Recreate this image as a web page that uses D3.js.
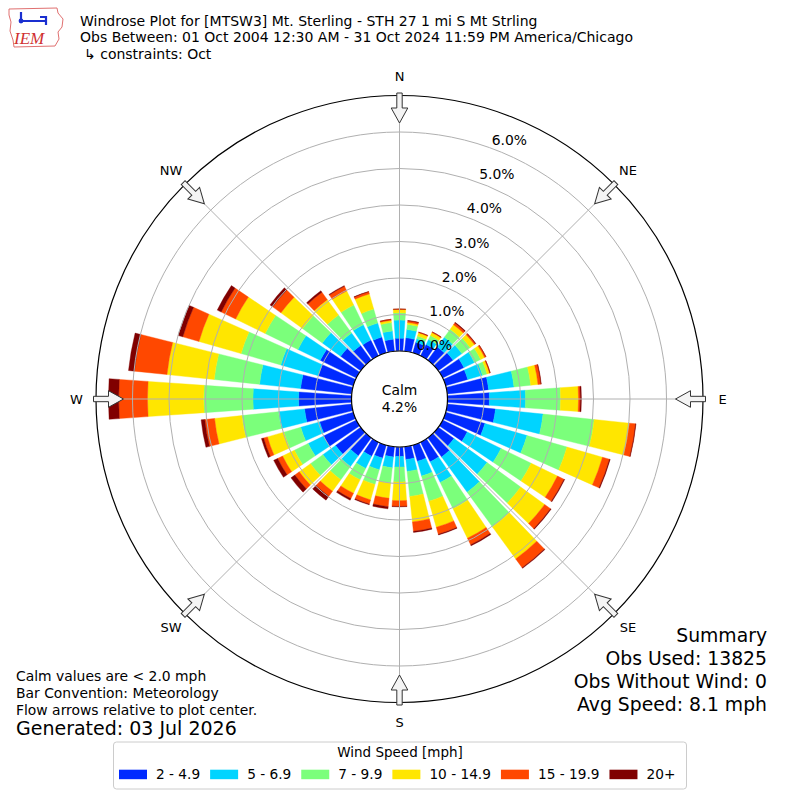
<!DOCTYPE html>
<html>
<head>
<meta charset="utf-8">
<script src="https://cdn.jsdelivr.net/npm/d3@7"></script>
<style>
  body { margin: 0; background: #fff; }
  svg text { font-family: "DejaVu Sans", sans-serif; fill: #000; }
</style>
</head>
<body>
<div id="chart"></div>
<script>
//directions of the 36 sectors (degrees, meteorological: where the wind blows from)
const directions = [0,10,20,30,40,50,60,70,80,90,100,110,120,130,140,150,160,170,
                    180,190,200,210,220,230,240,250,260,270,280,290,300,310,320,330,340,350];

//percent of obs in each sector, one array per speed class
const spd2to5 = [0.35,0.37,0.30,0.35,0.45,0.50,0.65,0.63,1.14,1.15,1.33,1.12,0.75,0.53,0.65,0.60,0.46,0.35,
                 0.26,0.28,0.37,0.43,0.61,0.85,1.00,0.96,1.30,1.45,1.41,1.00,1.10,0.68,0.50,0.48,0.45,0.33];
const spd5to7 = [0.50,0.23,0.10,0.15,0.33,0.30,0.32,0.42,0.70,0.99,1.31,1.20,1.03,1.12,1.19,0.63,0.42,0.33,
                 0.29,0.30,0.33,0.37,0.36,0.43,0.47,0.54,0.72,1.25,1.13,1.07,0.68,0.62,0.42,0.47,0.40,0.23];
const spd7to10 = [0.20,0.14,0.08,0.12,0.27,0.28,0.19,0.13,0.46,0.96,1.41,1.14,0.92,1.14,1.18,0.80,0.72,0.69,
                  0.41,0.42,0.42,0.35,0.45,0.42,0.42,0.48,1.01,1.35,1.25,1.13,1.00,0.67,0.61,0.60,0.40,0.23];
const spd10to15 = [0.09,0.05,0.09,0.09,0.15,0.14,0.12,0.07,0.20,0.49,0.97,1.01,0.80,0.81,1.08,0.90,0.74,0.70,
                   0.51,0.42,0.44,0.41,0.39,0.38,0.36,0.47,0.75,1.54,1.30,1.20,0.90,0.73,0.52,0.43,0.43,0.06];
const spd15to20 = [0.01,0.05,0.02,0.02,0.06,0.04,0.04,0.02,0.08,0.05,0.17,0.20,0.20,0.20,0.30,0.20,0.20,0.26,
                   0.16,0.23,0.12,0.16,0.17,0.15,0.15,0.11,0.27,0.79,0.90,0.46,0.44,0.28,0.25,0.14,0.06,0.03];
const spd20plus = [0.00,0.01,0.00,0.00,0.02,0.01,0.00,0.00,0.01,0.03,0.01,0.02,0.02,0.02,0.02,0.03,0.02,0.03,
                   0.01,0.06,0.02,0.05,0.13,0.13,0.12,0.06,0.10,0.28,0.16,0.13,0.12,0.09,0.05,0.02,0.01,0.00];

const speedLabels = ["2 - 4.9", "5 - 6.9", "7 - 9.9", "10 - 14.9", "15 - 19.9", "20+"];
const speedColors = ["#002aff", "#00d4ff", "#7bff7b", "#ffe600", "#ff4800", "#800000"];

const ringTicks = [0, 1, 2, 3, 4, 5, 6];
const compassNames = ["N", "NE", "E", "SE", "S", "SW", "W", "NW"];
const compassAngles = [0, 45, 90, 135, 180, 225, 270, 315];

const titleLines = ["Windrose Plot for [MTSW3] Mt. Sterling - STH 27 1 mi S Mt Strling",
                    "Obs Between: 01 Oct 2004 12:30 AM - 31 Oct 2024 11:59 PM America/Chicago",
                    "\u21b3 constraints: Oct"];
const noteLines = ["Calm values are < 2.0 mph", "Bar Convention: Meteorology", "Flow arrows relative to plot center."];
const summaryLines = ["Summary", "Obs Used: 13825", "Obs Without Wind: 0", "Avg Speed: 8.1 mph"];
const calmPct = 4.2;

//basic sizes
const width = 800, height = 800;
const cx = 399.5, cy = 399;
const rCalm = 48, rOuter = 303.5;
const rad = Math.PI / 180;

const svg = d3.select("#chart").append("svg")
    .attr("width", width).attr("height", height);

//radius scale, 0% sits on the calm circle
const rscale = d3.scaleLinear().domain([0, 7]).range([rCalm, rOuter]);

//stack the speed classes for every sector
const table = directions.map((d, i) => ({
  dir: d, s0: spd2to5[i], s1: spd5to7[i], s2: spd7to10[i],
  s3: spd10to15[i], s4: spd15to20[i], s5: spd20plus[i]
}));
const keys = ["s0", "s1", "s2", "s3", "s4", "s5"];
const series = d3.stack().keys(keys)(table);

const plot = svg.append("g").attr("transform", `translate(${cx},${cy})`);

//bars, 8 deg wide out of every 10 deg sector
const arc = d3.arc()
    .innerRadius(d => rscale(d[0]))
    .outerRadius(d => rscale(d[1]))
    .startAngle(d => (d.data.dir - 4) * rad)
    .endAngle(d => (d.data.dir + 4) * rad);

plot.append("g").selectAll("g")
  .data(series)
  .join("g")
    .attr("fill", (s, i) => speedColors[i])
    .attr("stroke", (s, i) => speedColors[i])
    .attr("stroke-width", 0.4)
  .selectAll("path")
  .data(s => s)
  .join("path")
    .attr("d", arc);

//grid rings and spokes drawn over the bars, like the original
plot.append("g").selectAll("circle")
  .data(ringTicks)
  .join("circle")
    .attr("r", d => rscale(d))
    .attr("fill", "none")
    .attr("stroke", "#b0b0b0")
    .attr("stroke-width", 1);

plot.append("g").selectAll("line")
  .data(compassAngles)
  .join("line")
    .attr("x1", 0).attr("y1", 0)
    .attr("x2", a => Math.sin(a * rad) * rOuter)
    .attr("y2", a => -Math.cos(a * rad) * rOuter)
    .attr("stroke", "#b0b0b0")
    .attr("stroke-width", 1);

//calm circle in the middle
plot.append("circle")
    .attr("r", rCalm)
    .attr("fill", "#fff")
    .attr("stroke", "#000")
    .attr("stroke-width", 1.2);
plot.append("text").attr("x", 0).attr("y", -4).attr("text-anchor", "middle")
    .style("font-size", "13.9px").text("Calm");
plot.append("text").attr("x", 0).attr("y", 13).attr("text-anchor", "middle")
    .style("font-size", "13.9px").text(calmPct.toFixed(1) + "%");

//outer frame
plot.append("circle")
    .attr("r", rOuter)
    .attr("fill", "none")
    .attr("stroke", "#000")
    .attr("stroke-width", 1.2);

//percent labels along the 20 deg ray
plot.append("g").selectAll("text")
  .data(ringTicks)
  .join("text")
    .attr("x", d => Math.sin(20 * rad) * rscale(d) + 18.5)
    .attr("y", d => -Math.cos(20 * rad) * rscale(d) - 8.5 + 5)
    .attr("text-anchor", "middle")
    .style("font-size", "13.9px")
    .text(d => d.toFixed(1) + "%");

//hollow flow arrows on the frame, pointing at the center
const arrowPts = [[-2.7, 306], [2.7, 306], [2.7, 291], [8.3, 291], [0, 276], [-8.3, 291], [-2.7, 291]];
plot.append("g").selectAll("path")
  .data(compassAngles)
  .join("path")
    .attr("d", "M" + arrowPts.map(p => p[0] + "," + (-p[1])).join("L") + "Z")
    .attr("transform", a => `rotate(${a})`)
    .attr("fill", "#f4f4f4")
    .attr("stroke", "#333")
    .attr("stroke-width", 1);

//compass names
plot.append("g").selectAll("text")
  .data(compassAngles)
  .join("text")
    .attr("x", a => Math.sin(a * rad) * 323)
    .attr("y", a => -Math.cos(a * rad) * 323 + 4.7)
    .attr("text-anchor", "middle")
    .style("font-size", "13px")
    .text((a, i) => compassNames[i]);

//header
svg.append("g").selectAll("text")
  .data(titleLines)
  .join("text")
    .attr("x", (d, i) => i == 2 ? 84 : 80)
    .attr("y", (d, i) => 25.5 + i * 16.5)
    .style("font-size", "14px")
    .text(d => d);

//IEM logo, rough redraw
const logo = svg.append("g");
logo.append("path")
    .attr("d", "M9,9 L57,8 L58,13 L63,19 L62,27 L58,32 L59,39 L55,46 L14,47 L13,40 L10,31 L11,22 L9,15 Z")
    .attr("fill", "#fff")
    .attr("stroke", "#e07070")
    .attr("stroke-width", 1);
logo.append("path")
    .attr("d", "M21,12 L21,21 M19,21 L46,21 M40,17 L46,17 L46,25")
    .attr("fill", "none")
    .attr("stroke", "#1a2fd0")
    .attr("stroke-width", 2.2);
logo.append("circle").attr("cx", 21).attr("cy", 21).attr("r", 2.4).attr("fill", "#1a2fd0");
logo.append("text")
    .attr("x", 14).attr("y", 44)
    .style("font-family", "'Liberation Serif', serif")
    .style("font-style", "italic")
    .style("font-size", "17px")
    .style("fill", "#d03030")
    .text("IEM");

//notes bottom left
svg.append("g").selectAll("text")
  .data(noteLines)
  .join("text")
    .attr("x", 16)
    .attr("y", (d, i) => 681 + i * 17)
    .style("font-size", "13.9px")
    .text(d => d);
svg.append("text")
    .attr("x", 16).attr("y", 735)
    .style("font-size", "19px")
    .text("Generated: 03 Jul 2026");

//summary bottom right
svg.append("g").selectAll("text")
  .data(summaryLines)
  .join("text")
    .attr("x", 767)
    .attr("y", (d, i) => 641.7 + i * 23)
    .attr("text-anchor", "end")
    .style("font-size", "18.8px")
    .text(d => d);

//legend
const legend = svg.append("g");
legend.append("rect")
    .attr("x", 113.5).attr("y", 742)
    .attr("width", 573).attr("height", 47)
    .attr("rx", 3)
    .attr("fill", "#fff")
    .attr("stroke", "#cccccc");
legend.append("text")
    .attr("x", 400).attr("y", 757)
    .attr("text-anchor", "middle")
    .style("font-size", "13.5px")
    .text("Wind Speed [mph]");

let lx = 119;
speedLabels.forEach((lab, i) => {
  legend.append("rect")
      .attr("x", lx).attr("y", 769.7)
      .attr("width", 28).attr("height", 9.5)
      .attr("fill", speedColors[i]);
  const t = legend.append("text")
      .attr("x", lx + 37).attr("y", 779)
      .style("font-size", "13.7px")
      .text(lab);
  lx = lx + 37 + t.node().getComputedTextLength() + 10;
});
</script>
</body>
</html>
